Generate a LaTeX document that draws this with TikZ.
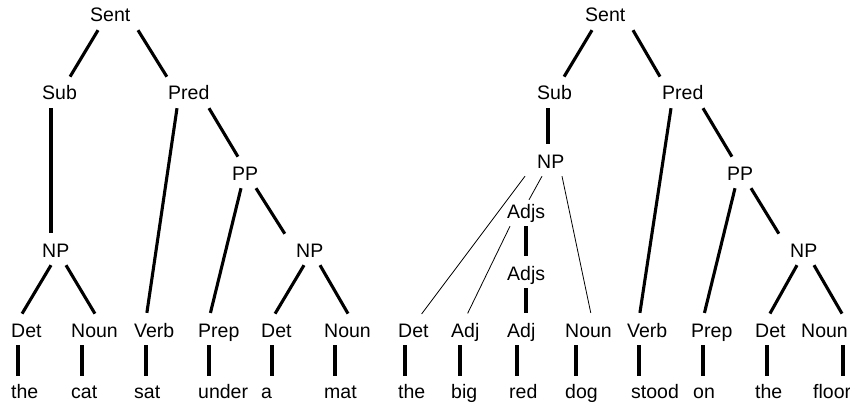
\documentclass[tikz,border=0pt]{standalone}
\usepackage{fontspec}
\setmainfont{Liberation Sans}

\begin{document}
\begin{tikzpicture}[x=1pt,y=-1pt,
  lbl/.style={anchor=base west, inner xsep=0pt, inner ysep=4pt,
    text height=14pt, text depth=4pt, font=\fontsize{19.5}{22}\selectfont},
  branch/.style={line width=3.1pt, shorten >=6pt},
  twig/.style={line width=0.8pt, shorten >=6pt},
  leafline/.style={line width=3.1pt, shorten >=4pt}]
\useasboundingbox (0,0) rectangle (850,406);
% left tree: the cat sat under a mat
\node[lbl] (sentA) at (90,22) {Sent};
\node[lbl] (subA) at (42,100) {Sub};
\node[lbl] (predA) at (168,100) {Pred};
\node[lbl] (ppA) at (232,180) {PP};
\node[lbl] (npA) at (42,257) {NP};
\node[lbl] (npB) at (296,257) {NP};
\node[lbl] (detA) at (11,337) {Det};
\node[lbl] (nounA) at (71,337) {Noun};
\node[lbl] (verbA) at (134,337) {Verb};
\node[lbl] (prepA) at (198,337) {Prep};
\node[lbl] (detB) at (261,337) {Det};
\node[lbl] (nounB) at (324,337) {Noun};
\node[lbl] (wThe) at (11,398) {the};
\node[lbl] (wCat) at (71,398) {cat};
\node[lbl] (wSat) at (134,398) {sat};
\node[lbl] (wUnder) at (198,398) {under};
\node[lbl] (wA) at (261,398) {a};
\node[lbl] (wMat) at (324,398) {mat};
\draw[branch] ([xshift=8pt]sentA.south west) -- ([xshift=25pt]subA.north west);
\draw[branch] ([xshift=48pt]sentA.south west) -- ([xshift=2pt]predA.north west);
\draw[branch] ([xshift=9pt]subA.south west) -- ([xshift=9pt]npA.north west);
\draw[branch] ([xshift=9pt]predA.south west) -- ([xshift=12pt]verbA.north west);
\draw[branch] ([xshift=41pt]predA.south west) -- ([xshift=9pt]ppA.north west);
\draw[branch] ([xshift=9pt]ppA.south west) -- ([xshift=11pt]prepA.north west);
\draw[branch] ([xshift=24pt]ppA.south west) -- ([xshift=-8pt]npB.north west);
\draw[branch] ([xshift=9pt]npA.south west) -- ([xshift=8pt]detA.north west);
\draw[branch] ([xshift=24pt]npA.south west) -- ([xshift=27pt]nounA.north west);
\draw[branch] ([xshift=8pt]npB.south west) -- ([xshift=11pt]detB.north west);
\draw[branch] ([xshift=24pt]npB.south west) -- ([xshift=27pt]nounB.north west);
\draw[leafline] ([xshift=7pt]detA.south west) -- ([xshift=7pt]detA.south west |- wThe.north);
\draw[leafline] ([xshift=11pt]nounA.south west) -- ([xshift=11pt]nounA.south west |- wCat.north);
\draw[leafline] ([xshift=12pt]verbA.south west) -- ([xshift=12pt]verbA.south west |- wSat.north);
\draw[leafline] ([xshift=11pt]prepA.south west) -- ([xshift=11pt]prepA.south west |- wUnder.north);
\draw[leafline] ([xshift=11pt]detB.south west) -- ([xshift=11pt]detB.south west |- wA.north);
\draw[leafline] ([xshift=11pt]nounB.south west) -- ([xshift=11pt]nounB.south west |- wMat.north);
% right tree: the big red dog stood on the floor
\node[lbl] (sentC) at (585,22) {Sent};
\node[lbl] (subC) at (537,100) {Sub};
\node[lbl] (predC) at (662,100) {Pred};
\node[lbl] (npC) at (537,168) {NP};
\node[lbl] (adjsA) at (507,218) {Adjs};
\node[lbl] (adjsB) at (507,280) {Adjs};
\node[lbl] (ppC) at (727,180) {PP};
\node[lbl] (npD) at (790,257) {NP};
\node[lbl] (detC) at (398,337) {Det};
\node[lbl] (adjA) at (451,337) {Adj};
\node[lbl] (adjB) at (507,337) {Adj};
\node[lbl] (nounC) at (565,337) {Noun};
\node[lbl] (verbC) at (627,337) {Verb};
\node[lbl] (prepC) at (691,337) {Prep};
\node[lbl] (detD) at (755,337) {Det};
\node[lbl] (nounD) at (801,337) {Noun};
\node[lbl] (wThe2) at (398,398) {the};
\node[lbl] (wBig) at (451,398) {big};
\node[lbl] (wRed) at (509,398) {red};
\node[lbl] (wDog) at (565,398) {dog};
\node[lbl] (wStood) at (631,398) {stood};
\node[lbl] (wOn) at (693,398) {on};
\node[lbl] (wThe3) at (755,398) {the};
\node[lbl] (wFloor) at (813,398) {floor};
\draw[branch] ([xshift=7pt]sentC.south west) -- ([xshift=24pt]subC.north west);
\draw[branch] ([xshift=48pt]sentC.south west) -- ([xshift=1pt]predC.north west);
\draw[branch] ([xshift=11pt]subC.south west) -- ([xshift=11pt]npC.north west);
\draw[branch] ([xshift=9pt]predC.south west) -- ([xshift=12pt]verbC.north west);
\draw[branch] ([xshift=41pt]predC.south west) -- ([xshift=8pt]ppC.north west);
\draw[branch] ([xshift=8pt]ppC.south west) -- ([xshift=12pt]prepC.north west);
\draw[branch] ([xshift=24pt]ppC.south west) -- ([xshift=-8pt]npD.north west);
\draw[branch] ([xshift=7pt]npD.south west) -- ([xshift=12pt]detD.north west);
\draw[branch] ([xshift=24pt]npD.south west) -- ([xshift=44pt]nounD.north west);
\draw[twig] ([xshift=-12pt]npC.south west) -- ([xshift=20pt]detC.north west);
\draw[twig, shorten >=0pt] ([xshift=5pt]npC.south west) -- ([xshift=22pt]adjsA.north west);
\draw[twig] ([xshift=25pt]npC.south west) -- ([xshift=27pt]nounC.north west);
\draw[twig] ([xshift=3pt]adjsA.south west) -- ([xshift=14pt]adjA.north west);
\draw[branch] ([xshift=19pt]adjsA.south west) -- ([xshift=19pt]adjsB.north west);
\draw[branch] ([xshift=19pt]adjsB.south west) -- ([xshift=19pt]adjB.north west);
\draw[leafline] ([xshift=7pt]detC.south west) -- ([xshift=7pt]detC.south west |- wThe2.north);
\draw[leafline] ([xshift=9pt]adjA.south west) -- ([xshift=9pt]adjA.south west |- wBig.north);
\draw[leafline] ([xshift=10pt]adjB.south west) -- ([xshift=10pt]adjB.south west |- wRed.north);
\draw[leafline] ([xshift=11pt]nounC.south west) -- ([xshift=11pt]nounC.south west |- wDog.north);
\draw[leafline] ([xshift=12pt]verbC.south west) -- ([xshift=12pt]verbC.south west |- wStood.north);
\draw[leafline] ([xshift=12pt]prepC.south west) -- ([xshift=12pt]prepC.south west |- wOn.north);
\draw[leafline] ([xshift=12pt]detD.south west) -- ([xshift=12pt]detD.south west |- wThe3.north);
\draw[leafline] ([xshift=42pt]nounD.south west) -- ([xshift=42pt]nounD.south west |- wFloor.north);
\end{tikzpicture}
\end{document}
